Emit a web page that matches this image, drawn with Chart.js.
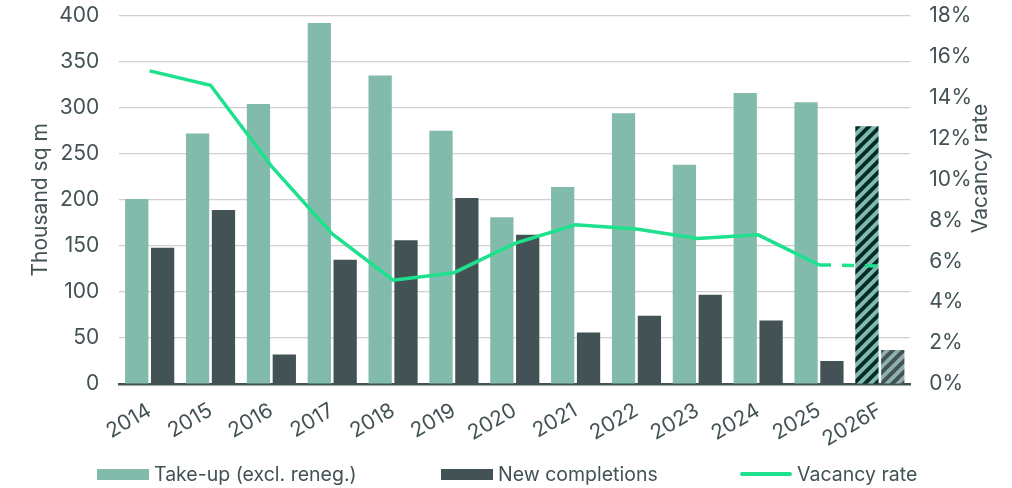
<!DOCTYPE html>
<html lang="en">
<head>
    <meta charset="UTF-8">
    <title>Take-up, completions and vacancy</title>
    <script src="https://cdn.jsdelivr.net/npm/chart.js"></script>
    <style>
        body {
            margin: 0;
            background: #ffffff;
            font-family: Inter, sans-serif;
        }
        .wrap {
            position: relative;
            width: 1012px;
            height: 488px;
        }
        .legend {
            position: absolute;
            left: 0;
            top: 463px;
            width: 1012px;
            height: 22px;
            font-size: 19.5px;
            color: #435254;
        }
        .legend .item {
            position: absolute;
            top: 0;
            display: flex;
            align-items: center;
            height: 22px;
            white-space: nowrap;
        }
        .legend .swatch {
            width: 52px;
            height: 11px;
            margin-right: 5px;
        }
        .legend .swatch.line {
            height: 4px;
            border-radius: 2px;
        }
    </style>
</head>
<body>
<div class="wrap">
    <canvas id="chart" width="1012" height="488"></canvas>
    <div class="legend" id="legend"></div>
</div>
<script>
    const years = ["2014", "2015", "2016", "2017", "2018", "2019", "2020", "2021", "2022", "2023", "2024", "2025", "2026F"];
    const takeUp = [201, 272, 304, 392, 335, 275, 181, 214, 294, 238, 316, 306, 280];
    const completions = [148, 189, 32, 135, 156, 202, 162, 56, 74, 97, 69, 25, 37];
    const vacancy = [15.3, 14.6, 10.65, 7.33, 5.07, 5.44, 6.87, 7.78, 7.57, 7.11, 7.29, 5.82, 5.77];
    const leftTicks = [0, 50, 100, 150, 200, 250, 300, 350, 400];
    const rightTicks = [0, 2, 4, 6, 8, 10, 12, 14, 16, 18];

    const textColor = "#435254";
    const takeUpColor = "#82baab";
    const completionsColor = "#435254";
    const vacancyColor = "#1ee18e";
    const forecastIndex = years.length - 1;

    function stripes(bg, fg) {
        const size = 11;
        const c = document.createElement("canvas");
        c.width = size;
        c.height = size;
        const x = c.getContext("2d");
        x.fillStyle = bg;
        x.fillRect(0, 0, size, size);
        x.strokeStyle = fg;
        x.lineWidth = 4;
        x.beginPath();
        x.moveTo(0, size);
        x.lineTo(size, 0);
        x.moveTo(-size / 2, size / 2);
        x.lineTo(size / 2, -size / 2);
        x.moveTo(size / 2, size * 1.5);
        x.lineTo(size * 1.5, size / 2);
        x.stroke();
        return x.createPattern(c, "repeat");
    }

    const takeUpForecast = stripes("#032b2c", takeUpColor);
    const completionsForecast = stripes("#8fb1ae", completionsColor);

    // right axis title reads bottom-to-top, so draw it ourselves
    const rightTitle = {
        id: "rightTitle",
        afterDraw(chart) {
            const ctx = chart.ctx;
            const area = chart.chartArea;
            ctx.save();
            ctx.translate(chart.width - 31, area.top + area.height * 0.415);
            ctx.rotate(-Math.PI / 2);
            ctx.font = "21px Inter";
            ctx.fillStyle = textColor;
            ctx.textAlign = "center";
            ctx.textBaseline = "middle";
            ctx.fillText("Vacancy rate", 0, 0);
            ctx.restore();
        }
    };

    const chart = new Chart(document.getElementById("chart"), {
        type: "bar",
        data: {
            labels: years,
            datasets: [
                {
                    label: "Take-up (excl. reneg.)",
                    data: takeUp,
                    yAxisID: "y",
                    order: 2,
                    backgroundColor: ctx => ctx.type === "data" && ctx.dataIndex === forecastIndex ? takeUpForecast : takeUpColor,
                    barPercentage: 0.9,
                    categoryPercentage: 0.85
                },
                {
                    label: "New completions",
                    data: completions,
                    yAxisID: "y",
                    order: 2,
                    backgroundColor: ctx => ctx.type === "data" && ctx.dataIndex === forecastIndex ? completionsForecast : completionsColor,
                    barPercentage: 0.9,
                    categoryPercentage: 0.85
                },
                {
                    type: "line",
                    label: "Vacancy rate",
                    data: vacancy,
                    yAxisID: "y1",
                    order: 1,
                    borderColor: vacancyColor,
                    backgroundColor: vacancyColor,
                    borderWidth: 3.5,
                    pointRadius: 0,
                    tension: 0,
                    segment: {
                        borderDash: ctx => ctx.p1DataIndex === forecastIndex ? [12, 11] : undefined
                    }
                }
            ]
        },
        options: {
            responsive: false,
            animation: false,
            layout: {
                padding: { left: 0, right: 37, top: 0, bottom: 22 }
            },
            plugins: {
                legend: { display: false },
                tooltip: { enabled: false }
            },
            scales: {
                x: {
                    grid: { display: false, drawTicks: false },
                    border: { color: completionsColor, width: 2.5 },
                    ticks: {
                        color: textColor,
                        font: { family: "Inter", size: 21 },
                        minRotation: 30,
                        maxRotation: 30,
                        padding: 14
                    }
                },
                y: {
                    position: "left",
                    min: 0,
                    max: 400,
                    afterBuildTicks: axis => { axis.ticks = leftTicks.map(v => ({ value: v })); },
                    grid: { color: "#d0d0d0", lineWidth: 1.2, drawTicks: true, tickLength: 17, tickColor: "rgba(0,0,0,0)" },
                    border: { display: false },
                    ticks: {
                        color: textColor,
                        font: { family: "Inter", size: 21 },
                        padding: 3
                    },
                    title: {
                        display: true,
                        text: "Thousand sq m",
                        color: textColor,
                        font: { family: "Inter", size: 21 },
                        padding: { top: 28, bottom: 3 }
                    }
                },
                y1: {
                    position: "right",
                    min: 0,
                    max: 18,
                    afterBuildTicks: axis => { axis.ticks = rightTicks.map(v => ({ value: v })); },
                    grid: { display: false, drawOnChartArea: false, drawTicks: true, tickLength: 16, tickColor: "rgba(0,0,0,0)" },
                    border: { display: false },
                    ticks: {
                        color: textColor,
                        font: { family: "Inter", size: 21 },
                        padding: 3,
                        callback: v => v + "%"
                    }
                }
            }
        },
        plugins: [rightTitle]
    });

    // legend built from the datasets
    const legendLeft = [97, 441, 740];
    const legendEl = document.getElementById("legend");
    chart.data.datasets.forEach((ds, i) => {
        const item = document.createElement("div");
        item.className = "item";
        item.style.left = legendLeft[i] + "px";
        const sw = document.createElement("span");
        sw.className = ds.type === "line" ? "swatch line" : "swatch";
        sw.style.background = ds.type === "line" ? ds.borderColor : (i === 0 ? takeUpColor : completionsColor);
        const tx = document.createElement("span");
        tx.textContent = ds.label;
        item.appendChild(sw);
        item.appendChild(tx);
        legendEl.appendChild(item);
    });
</script>
</body>
</html>
